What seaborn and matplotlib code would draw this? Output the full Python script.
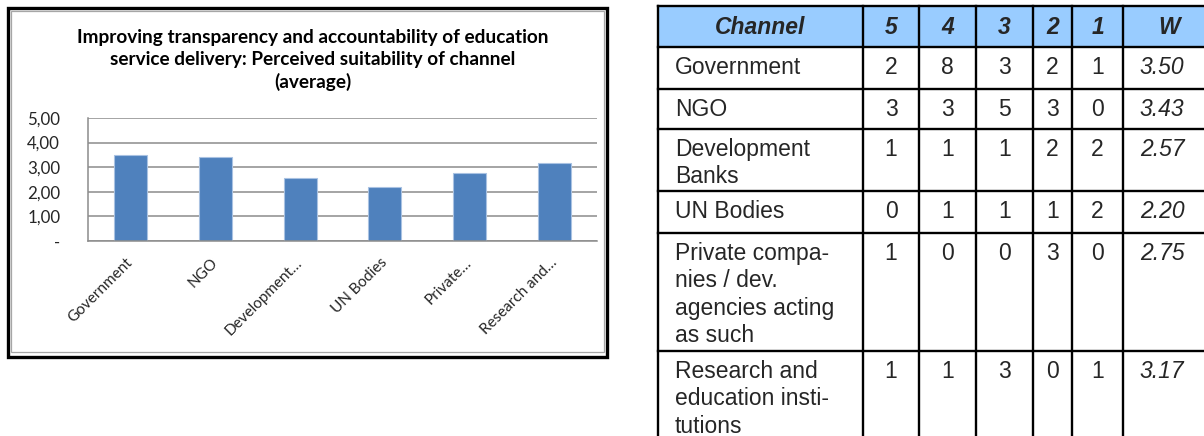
import matplotlib
matplotlib.use("Agg")
import matplotlib.pyplot as plt
import seaborn as sns
from matplotlib.patches import Rectangle

# ============================================================
# data
# ============================================================
chart_title = ("Improving transparency and accountability of education\n"
               "service delivery: Perceived suitability of channel\n"
               "(average)")
bar_labels = ["Government", "NGO", "Development…", "UN Bodies", "Private…", "Research and…"]
y_ticks = [0, 1, 2, 3, 4, 5]
y_ticklabels = ["-", "1,00", "2,00", "3,00", "4,00", "5,00"]

table_header = ["Channel", "5", "4", "3", "2", "1", "W"]
table_channels = ["Government", "NGO", "Development\nBanks", "UN Bodies",
                  "Private compa-\nnies / dev.\nagencies acting\nas such",
                  "Research and\neducation insti-\ntutions"]
score_5 = [2, 3, 1, 0, 1, 1]
score_4 = [8, 3, 1, 1, 0, 1]
score_3 = [3, 5, 1, 1, 0, 3]
score_2 = [2, 3, 2, 1, 3, 0]
score_1 = [1, 0, 2, 2, 0, 1]
w_values = [3.50, 3.43, 2.57, 2.20, 2.75, 3.17]

# ============================================================
# figure
# ============================================================
sns.set_style("white")
plt.rcParams["font.family"] = ["Lato", "DejaVu Sans"]

W, H = 1204, 436
fig = plt.figure(figsize=(W / 100, H / 100), dpi=100)

# background layer in pixel units (frame, title, table)
bg = fig.add_axes([0, 0, 1, 1])
bg.set_xlim(0, W)
bg.set_ylim(H, 0)
bg.axis("off")

# chart frame: black outer box + grey inner line
bg.add_patch(Rectangle((8, 8), 599, 349, fill=False, ec="black", lw=2.4))
bg.add_patch(Rectangle((11, 11), 593, 341, fill=False, ec="#a6a6a6", lw=0.9))

bg.text(313, 60, chart_title, ha="center", va="center", fontsize=13.7,
        fontweight="bold", linespacing=1.36, color="black")

# --- bar chart ---
ax = fig.add_axes([88 / W, 1 - 241 / H, (597 - 88) / W, (241 - 118) / H])
sns.barplot(x=bar_labels, y=w_values, color="#4F81BD", saturation=1,
            width=0.39, edgecolor="#a9c2e2", linewidth=0.8, ax=ax)
ax.set_xlim(-0.5, len(bar_labels) - 0.5)
ax.set_ylim(0, 5)
ax.set_yticks(y_ticks)
ax.set_yticklabels(y_ticklabels, fontsize=12.2)
ax.yaxis.grid(True, color="#8c8c8c", lw=1.1)
ax.set_axisbelow(True)
ax.set_xlabel("")
ax.set_ylabel("")
for s in ["top", "right"]:
    ax.spines[s].set_visible(False)
for s in ["left", "bottom"]:
    ax.spines[s].set_color("#8c8c8c")
    ax.spines[s].set_linewidth(1.1)
ax.tick_params(axis="y", direction="out", length=5, color="#8c8c8c", width=1.1, pad=15)
ax.tick_params(axis="x", which="major", length=0, pad=14)
ax.set_xticks([i - 0.5 for i in range(len(bar_labels) + 1)], minor=True)
ax.tick_params(axis="x", which="minor", direction="out", length=5, color="#8c8c8c", width=1.1)
for lab in ax.get_xticklabels():
    lab.set_rotation(45)
    lab.set_ha("right")
    lab.set_va("center")
    lab.set_rotation_mode("anchor")
    lab.set_fontsize(11)

# --- table ---
col_edges = [658, 863, 919, 976, 1033, 1072, 1123, 1215]
row_edges = [6, 47, 89, 129, 191, 233, 351, 445]
tfont = ["Liberation Sans", "DejaVu Sans"]
tsize = 16.5

bg.add_patch(Rectangle((col_edges[0], row_edges[0]), col_edges[-1] - col_edges[0],
                       row_edges[1] - row_edges[0], color="#99CCFF", lw=0))
for x in col_edges:
    bg.plot([x, x], [row_edges[0], row_edges[-1]], color="black", lw=1.7,
            solid_capstyle="projecting")
for y in row_edges:
    bg.plot([col_edges[0], col_edges[-1]], [y, y], color="black", lw=1.7,
            solid_capstyle="projecting")

centers = [(col_edges[i] + col_edges[i + 1]) / 2 for i in range(len(col_edges) - 1)]
hy = (row_edges[0] + row_edges[1]) / 2
for i, h in enumerate(table_header):
    bg.text(centers[i], hy + 1, h, ha="center", va="center", fontsize=tsize,
            fontweight="bold", fontstyle="italic", family=tfont)

score_cols = [score_5, score_4, score_3, score_2, score_1]
for r, name in enumerate(table_channels):
    ty = row_edges[r + 1] + 9
    bg.text(675, ty, name, ha="left", va="top", fontsize=tsize,
            family=tfont, linespacing=1.24)
    for c, col in enumerate(score_cols):
        bg.text(centers[c + 1], ty, str(col[r]), ha="center", va="top",
                fontsize=tsize, family=tfont)
    bg.text(centers[6] - 7, ty, f"{w_values[r]:.2f}", ha="center", va="top",
            fontsize=tsize, fontstyle="italic", family=tfont)

fig.savefig("out.png", dpi=100)
